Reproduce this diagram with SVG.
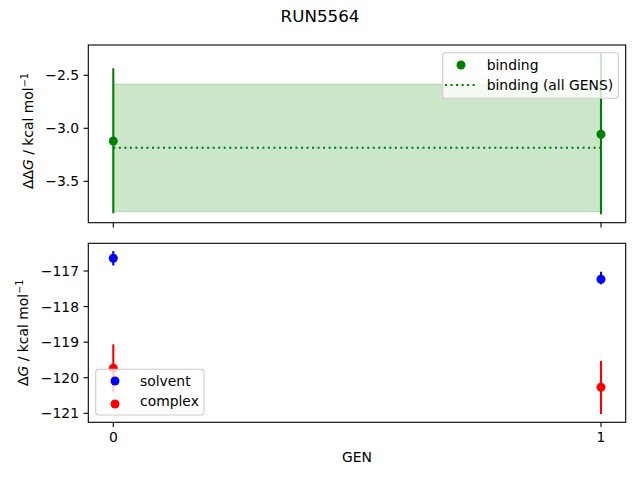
<svg xmlns="http://www.w3.org/2000/svg" width="640" height="480" viewBox="0 0 640 480">
<style>
text{font-family:"DejaVu Sans","Liberation Sans",sans-serif;font-size:13.9px;fill:#000}
.tl{text-anchor:end}
.tc{text-anchor:middle}
.spine{fill:none;stroke:#000;stroke-width:1.1}
.tick{stroke:#000;stroke-width:1.1}
.leg{fill:#fff;fill-opacity:0.8;stroke:#ccc;stroke-width:1.1}
.eg{stroke:#008000;stroke-width:2.1}
.er{stroke:#ff0000;stroke-width:2.1}
.eb{stroke:#0000ff;stroke-width:2.1}
</style>
<rect width="640" height="480" fill="#fff"/>
<text x="320" y="22" class="tc" style="font-size:16.7px">RUN5564</text>

<g id="top-axes">
<rect x="113.3" y="84" width="487.7" height="127.7" fill="#008000" fill-opacity="0.2" stroke="#008000" stroke-opacity="0.2" stroke-width="1"/>
<line x1="113.3" y1="147.7" x2="601" y2="147.7" stroke="#008000" stroke-width="2.1" stroke-dasharray="2.08 3.44"/>
<line class="eg" x1="113.3" y1="68.3" x2="113.3" y2="213.3"/>
<line class="eg" x1="601" y1="52.7" x2="601" y2="214.3"/>
<circle cx="113.3" cy="141" r="4.5" fill="#008000"/>
<circle cx="601" cy="134.3" r="4.5" fill="#008000"/>
<rect class="spine" x="88.3" y="45" width="537.4" height="177.7"/>
<line class="tick" x1="83.5" y1="75.3" x2="88.3" y2="75.3"/>
<line class="tick" x1="83.5" y1="128.3" x2="88.3" y2="128.3"/>
<line class="tick" x1="83.5" y1="181.3" x2="88.3" y2="181.3"/>
<line class="tick" x1="113.3" y1="222.7" x2="113.3" y2="227.5"/>
<line class="tick" x1="601" y1="222.7" x2="601" y2="227.5"/>
<text x="79" y="80.3" class="tl">−2.5</text>
<text x="79" y="133.3" class="tl">−3.0</text>
<text x="79" y="186.3" class="tl">−3.5</text>
<text transform="translate(33,131) rotate(-90)" class="tc">ΔΔ<tspan font-style="italic">G</tspan> / kcal mol<tspan dy="-5" style="font-size:9.7px">−1</tspan></text>
<g id="top-legend">
<rect class="leg" x="442.7" y="52.7" width="175.6" height="45.6" rx="2.8"/>
<circle cx="461" cy="65" r="4.5" fill="#008000"/>
<line x1="445" y1="85" x2="475" y2="85" stroke="#008000" stroke-width="2.1" stroke-dasharray="2.08 3.44"/>
<text x="486.7" y="69.5">binding</text>
<text x="486.7" y="89.5">binding (all GENS)</text>
</g>
</g>

<g id="bottom-axes">
<line class="eb" x1="113.3" y1="251" x2="113.3" y2="265.5"/>
<line class="eb" x1="601" y1="271.7" x2="601" y2="284.3"/>
<line class="er" x1="113.3" y1="344.3" x2="113.3" y2="392.3"/>
<line class="er" x1="601" y1="361" x2="601" y2="414"/>
<circle cx="113.3" cy="258.3" r="4.5" fill="#0000ff"/>
<circle cx="601" cy="279.3" r="4.5" fill="#0000ff"/>
<circle cx="113.3" cy="368.3" r="4.5" fill="#ff0000"/>
<circle cx="601" cy="387.3" r="4.5" fill="#ff0000"/>
<rect class="spine" x="88.3" y="243.3" width="537.4" height="179"/>
<line class="tick" x1="83.5" y1="271" x2="88.3" y2="271"/>
<line class="tick" x1="83.5" y1="306.6" x2="88.3" y2="306.6"/>
<line class="tick" x1="83.5" y1="342.2" x2="88.3" y2="342.2"/>
<line class="tick" x1="83.5" y1="377.7" x2="88.3" y2="377.7"/>
<line class="tick" x1="83.5" y1="413.3" x2="88.3" y2="413.3"/>
<line class="tick" x1="113.3" y1="422.3" x2="113.3" y2="427.1"/>
<line class="tick" x1="601" y1="422.3" x2="601" y2="427.1"/>
<text x="79" y="276" class="tl">−117</text>
<text x="79" y="311.6" class="tl">−118</text>
<text x="79" y="347.2" class="tl">−119</text>
<text x="79" y="382.7" class="tl">−120</text>
<text x="79" y="418.3" class="tl">−121</text>
<text x="113.3" y="442" class="tc">0</text>
<text x="601" y="442" class="tc">1</text>
<text x="357" y="462" class="tc">GEN</text>
<text transform="translate(27.5,332.8) rotate(-90)" class="tc">Δ<tspan font-style="italic">G</tspan> / kcal mol<tspan dy="-5" style="font-size:9.7px">−1</tspan></text>
<g id="bottom-legend">
<rect class="leg" x="95.7" y="369.3" width="108.3" height="45.7" rx="2.8"/>
<circle cx="115" cy="381" r="4.5" fill="#0000ff"/>
<circle cx="115" cy="404" r="4.5" fill="#ff0000"/>
<text x="140" y="385.5">solvent</text>
<text x="140" y="406">complex</text>
</g>
</g>
</svg>
